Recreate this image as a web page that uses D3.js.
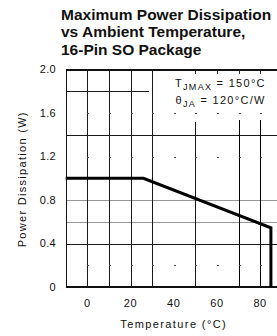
<!DOCTYPE html>
<html>
<head>
<meta charset="utf-8">
<script src="https://cdn.jsdelivr.net/npm/d3@7"></script>
<style>
  html, body { margin: 0; padding: 0; background: #fff; }
  svg { display: block; }
  .lbl { font-family: "Liberation Sans", Arial, sans-serif; fill: #111; }
  .grid line { shape-rendering: crispEdges; }
</style>
</head>
<body>
<svg id="chart" width="277" height="336"></svg>
<script>
// curve: ambient temperature (°C) vs max power dissipation (W)
const temps = [-10, 26, 85, 85];
const power = [1.0, 1.0, 0.545, 0];

const xTickVals = [0, 20, 40, 60, 80];
const yTickVals = [0, 0.4, 0.8, 1.2, 1.6, 2.0];
const yTickLabels = ['0', '0.4', '0.8', '1.2', '1.6', '2.0'];

// grid as drawn in the datasheet
const hGridBlack = [1.4, 0.4];
const hGridGray = [0.8, 0.6];
const hGridShort = [1.8];
const vGridFull = [0, 10, 20, 30];
const vGridLower = [50];
const vGridLowerBold = [70, 80];
const topTicks = [50, 60, 70, 80];
const dotX = [0, 10, 20, 30, 40, 50, 60, 70, 80];
const dotY = [0.2, 1.2, 1.6];

const titleLines = ['Maximum Power Dissipation', 'vs Ambient Temperature,', '16-Pin SO Package'];

const vis = d3.select('#chart');
const x = d3.scaleLinear().domain([-10, 90]).range([65.7, 281.7]);
const y = d3.scaleLinear().domain([0, 2]).range([287, 69.5]);
// pixel-snapped helpers for hairlines
const px = v => Math.round(x(v)) + 0.5;
const py = v => Math.round(y(v)) + 0.5;
const noteLeft = x(28.5), noteBottom = 120;

// title
vis.append('g').selectAll('text').data(titleLines).join('text')
  .attr('class', 'lbl')
  .attr('x', 61).attr('y', (d, i) => 19.5 + i * 17.5)
  .style('font-size', '15.5px').style('font-weight', 'bold')
  .text(d => d);

const grid = vis.append('g').attr('class', 'grid');
grid.selectAll('.hb').data(hGridBlack).join('line')
  .attr('x1', x(-10)).attr('x2', x(90))
  .attr('y1', d => py(d)).attr('y2', d => py(d))
  .attr('stroke', '#1a1a1a').attr('stroke-width', 1);
grid.selectAll('.hg').data(hGridGray).join('line')
  .attr('x1', x(-10)).attr('x2', x(90))
  .attr('y1', d => py(d)).attr('y2', d => py(d))
  .attr('stroke', '#999').attr('stroke-width', 1);
grid.selectAll('.hs').data(hGridShort).join('line')
  .attr('x1', x(-10)).attr('x2', noteLeft)
  .attr('y1', d => py(d)).attr('y2', d => py(d))
  .attr('stroke', '#1a1a1a').attr('stroke-width', 1);
grid.selectAll('.vf').data(vGridFull).join('line')
  .attr('x1', d => px(d)).attr('x2', d => px(d))
  .attr('y1', y(2)).attr('y2', y(0))
  .attr('stroke', '#1a1a1a').attr('stroke-width', 1);
grid.selectAll('.vl').data(vGridLower).join('line')
  .attr('x1', d => px(d)).attr('x2', d => px(d))
  .attr('y1', noteBottom + 2).attr('y2', y(0))
  .attr('stroke', '#1a1a1a').attr('stroke-width', 1);
grid.selectAll('.vb').data(vGridLowerBold).join('line')
  .attr('x1', d => px(d)).attr('x2', d => px(d))
  .attr('y1', noteBottom).attr('y2', y(0))
  .attr('stroke', '#000').attr('stroke-width', 1);
grid.selectAll('.tt').data(topTicks).join('line')
  .attr('x1', d => px(d)).attr('x2', d => px(d))
  .attr('y1', y(2)).attr('y2', y(2) + 4)
  .attr('stroke', '#333').attr('stroke-width', 1);

// minor dots
const dots = dotX.flatMap(a => dotY.map(b => [a, b]));
grid.selectAll('.dot').data(dots).join('line')
  .attr('x1', d => px(d[0]) - 1).attr('x2', d => px(d[0]) + 1)
  .attr('y1', d => py(d[1])).attr('y2', d => py(d[1]))
  .attr('stroke', '#555').attr('stroke-width', 1);

// frame
const frame = vis.append('g').attr('class', 'grid');
frame.append('line').attr('x1', x(-10)).attr('x2', x(90))
  .attr('y1', Math.round(y(2))).attr('y2', Math.round(y(2))).attr('stroke', '#111').attr('stroke-width', 2);
frame.append('line').attr('x1', x(-10)).attr('x2', x(90))
  .attr('y1', Math.round(y(0))).attr('y2', Math.round(y(0))).attr('stroke', '#111').attr('stroke-width', 2);
frame.append('line').attr('x1', px(-10)).attr('x2', px(-10))
  .attr('y1', y(2)).attr('y2', y(0)).attr('stroke', '#111').attr('stroke-width', 1);

// derating curve
const lineGen = d3.line().x((d, i) => x(temps[i])).y((d, i) => y(power[i]));
vis.append('path')
  .attr('d', lineGen(temps))
  .attr('fill', 'none').attr('stroke', '#000')
  .attr('stroke-width', 3).attr('stroke-linejoin', 'miter');

// axes labels
vis.append('g').selectAll('text').data(xTickVals).join('text')
  .attr('class', 'lbl')
  .attr('x', d => x(d)).attr('y', 306.5)
  .attr('text-anchor', 'middle')
  .style('font-size', '11px').style('letter-spacing', '0.6px')
  .text(d => d);
vis.append('g').selectAll('text').data(yTickVals).join('text')
  .attr('class', 'lbl')
  .attr('x', 56).attr('y', d => y(d)).attr('dy', '0.36em')
  .attr('text-anchor', 'end')
  .style('font-size', '11px').style('letter-spacing', '0.3px')
  .text((d, i) => yTickLabels[i]);

vis.append('text').attr('class', 'lbl')
  .attr('x', x(40)).attr('y', 328)
  .attr('text-anchor', 'middle')
  .style('font-size', '11px').style('letter-spacing', '1.4px')
  .text('Temperature (°C)');
vis.append('text').attr('class', 'lbl')
  .attr('transform', 'translate(26,' + (y(1) + 1) + ') rotate(-90)')
  .attr('text-anchor', 'middle')
  .style('font-size', '11px').style('letter-spacing', '1.3px')
  .text('Power Dissipation (W)');

// note
const note = vis.append('g').attr('class', 'lbl')
  .style('font-size', '11px').style('letter-spacing', '1.3px').style('white-space', 'pre');
const n1 = note.append('text').attr('x', 175).attr('y', 87);
n1.append('tspan').text('T');
n1.append('tspan').attr('dy', 3).style('font-size', '9px').text('JMAX');
n1.append('tspan').attr('dy', -3).text(' =  150°C');
const n2 = note.append('text').attr('x', 175.5).attr('y', 103.5);
n2.append('tspan').text('θ');
n2.append('tspan').attr('dy', 3).style('font-size', '9px').text('JA');
n2.append('tspan').attr('dy', -3).text(' =  120°C/W');
</script>
</body>
</html>
